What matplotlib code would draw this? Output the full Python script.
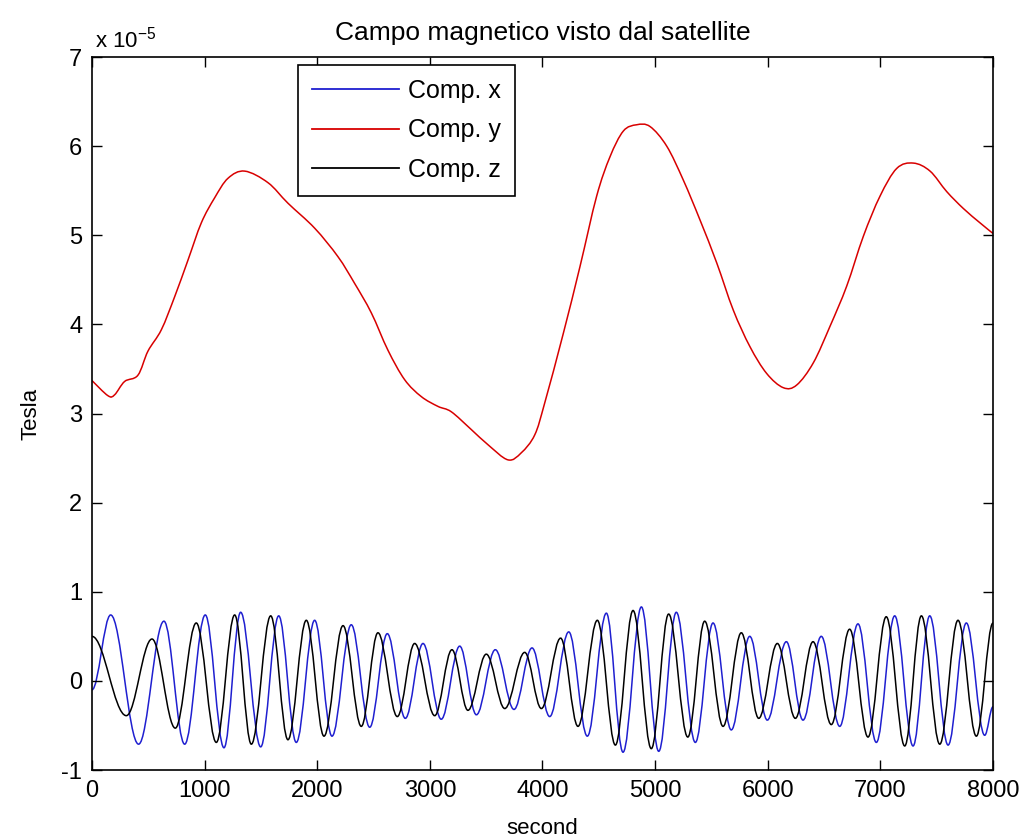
import matplotlib
matplotlib.use('Agg')
import matplotlib.pyplot as plt
from matplotlib.path import Path
from matplotlib.patches import PathPatch
from matplotlib.lines import Line2D

plt.rcParams['font.family'] = ['Liberation Sans', 'DejaVu Sans']
plt.rcParams['mathtext.fontset'] = 'custom'
plt.rcParams['mathtext.rm'] = 'Liberation Sans'
plt.rcParams['mathtext.it'] = 'Liberation Sans'
plt.rcParams['axes.unicode_minus'] = False

# ---------------- data (values in units of 1e-5 Tesla) ----------------
title = "Campo magnetico visto dal satellite"
xlabel = "second"
ylabel = "Tesla"
labels = ["Comp. x", "Comp. y", "Comp. z"]

# Comp. x : successive extrema (time [s], value)
x_t = [0, 166, 414, 639, 823, 1006, 1172, 1320, 1498, 1658, 1814, 1977, 2131,
       2302, 2466, 2622, 2782, 2939, 3101, 3265, 3413, 3581, 3747, 3907, 4064,
       4233, 4398, 4567, 4715, 4878, 5032, 5188, 5357, 5514, 5676, 5840, 5996,
       6165, 6313, 6475, 6639, 6801, 6964, 7127, 7290, 7438, 7601, 7763, 7926, 8000]
x_v = [-0.10, 0.74, -0.71, 0.67, -0.71, 0.74, -0.75, 0.77, -0.74, 0.73, -0.69,
       0.68, -0.62, 0.63, -0.52, 0.53, -0.42, 0.42, -0.43, 0.39, -0.38, 0.35,
       -0.32, 0.37, -0.40, 0.55, -0.62, 0.76, -0.80, 0.83, -0.79, 0.77, -0.69,
       0.65, -0.55, 0.50, -0.44, 0.44, -0.44, 0.50, -0.51, 0.64, -0.69, 0.73,
       -0.73, 0.73, -0.72, 0.65, -0.61, -0.29]

# Comp. y : samples (time [s], value)
y_t = [0, 142, 201, 290, 408, 497, 616, 734, 852, 971, 1089, 1208, 1356, 1563,
       1740, 1977, 2184, 2332, 2480, 2628, 2776, 2924, 3072, 3190, 3368, 3516,
       3694, 3812, 3931, 4020, 4185, 4333, 4481, 4599, 4718, 4836, 4955, 5103,
       5250, 5399, 5547, 5694, 5842, 5990, 6138, 6257, 6405, 6553, 6701, 6849,
       6997, 7145, 7293, 7441, 7589, 7737, 7884, 8000]
y_v = [3.37, 3.20, 3.21, 3.36, 3.43, 3.70, 3.94, 4.31, 4.72, 5.14, 5.42, 5.64,
       5.72, 5.59, 5.36, 5.08, 4.76, 4.46, 4.13, 3.71, 3.38, 3.19, 3.08, 3.02,
       2.82, 2.65, 2.48, 2.56, 2.76, 3.12, 3.90, 4.65, 5.44, 5.88, 6.17, 6.24,
       6.22, 6.00, 5.62, 5.17, 4.69, 4.16, 3.75, 3.45, 3.29, 3.32, 3.57, 3.98,
       4.43, 4.99, 5.44, 5.75, 5.81, 5.72, 5.49, 5.30, 5.14, 5.02]

# Comp. z : successive extrema (time [s], value)
z_t = [0, 305, 533, 740, 926, 1104, 1267, 1415, 1587, 1740, 1903, 2060, 2229,
       2391, 2539, 2711, 2865, 3043, 3196, 3338, 3501, 3665, 3842, 3990, 4161,
       4315, 4487, 4647, 4804, 4966, 5120, 5290, 5440, 5603, 5765, 5920, 6085,
       6245, 6402, 6564, 6727, 6890, 7052, 7216, 7364, 7527, 7689, 7852, 8000]
z_v = [0.50, -0.39, 0.47, -0.53, 0.65, -0.69, 0.74, -0.71, 0.73, -0.66, 0.68,
       -0.62, 0.62, -0.51, 0.54, -0.40, 0.42, -0.39, 0.35, -0.33, 0.30, -0.31,
       0.32, -0.31, 0.48, -0.51, 0.68, -0.72, 0.79, -0.76, 0.75, -0.63, 0.67,
       -0.51, 0.54, -0.42, 0.42, -0.42, 0.44, -0.49, 0.58, -0.63, 0.72, -0.73,
       0.73, -0.71, 0.68, -0.62, 0.65]

x_ticks = [0, 1000, 2000, 3000, 4000, 5000, 6000, 7000, 8000]
y_ticks = [-1, 0, 1, 2, 3, 4, 5, 6, 7]

BLUE = '#1f1fd0'
RED = '#d80000'
BLACK = '#000000'


def extrema_path(t, v, k=0.364):
    """Bezier path through the extrema, horizontal tangent at each extremum."""
    verts = [(t[0], v[0])]
    codes = [Path.MOVETO]
    for i in range(len(t) - 1):
        dt = t[i + 1] - t[i]
        verts += [(t[i] + k * dt, v[i]), (t[i + 1] - k * dt, v[i + 1]),
                  (t[i + 1], v[i + 1])]
        codes += [Path.CURVE4] * 3
    return Path(verts, codes)


def smooth_path(t, v):
    """Catmull-Rom style Bezier path through the sample points."""
    n = len(t)
    verts = [(t[0], v[0])]
    codes = [Path.MOVETO]
    for i in range(n - 1):
        a = max(i - 1, 0)
        b = min(i + 2, n - 1)
        c1 = (t[i] + (t[i + 1] - t[a]) / 6.0, v[i] + (v[i + 1] - v[a]) / 6.0)
        c2 = (t[i + 1] - (t[b] - t[i]) / 6.0, v[i + 1] - (v[b] - v[i]) / 6.0)
        verts += [c1, c2, (t[i + 1], v[i + 1])]
        codes += [Path.CURVE4] * 3
    return Path(verts, codes)


fig = plt.figure(figsize=(10.23, 8.4), dpi=100)
ax = fig.add_axes([0.0899, 0.0833, 0.8808, 0.8488])

ax.add_patch(PathPatch(extrema_path(x_t, x_v), fill=False, edgecolor=BLUE, lw=1.1))
ax.add_patch(PathPatch(smooth_path(y_t, y_v), fill=False, edgecolor=RED, lw=1.1))
ax.add_patch(PathPatch(extrema_path(z_t, z_v), fill=False, edgecolor=BLACK, lw=1.1))

ax.set_xlim(0, 8000)
ax.set_ylim(-1, 7)
ax.set_xticks(x_ticks)
ax.set_yticks(y_ticks)
ax.tick_params(direction='in', length=7, width=1, top=True, right=True,
               labelsize=17, pad=7)
for s in ax.spines.values():
    s.set_linewidth(1.2)

ax.set_title(title, fontsize=19, pad=12)
ax.set_xlabel(xlabel, fontsize=16, labelpad=12)
ax.set_ylabel(ylabel, fontsize=16, labelpad=14)
ax.text(0.003, 1.006, r'x 10$^{-5}$', transform=ax.transAxes, ha='left',
        va='bottom', fontsize=16)

handles = [Line2D([], [], color=c, lw=1.3) for c in (BLUE, RED, BLACK)]
leg = ax.legend(handles, labels, loc='upper left', bbox_to_anchor=(0.2286, 0.9888),
                borderaxespad=0, fancybox=False, framealpha=1, edgecolor='black',
                fontsize=18, handlelength=3.5, handletextpad=0.35, labelspacing=0.62,
                borderpad=0.55)
leg.get_frame().set_linewidth(1.2)

fig.savefig('out.png', dpi=100)
